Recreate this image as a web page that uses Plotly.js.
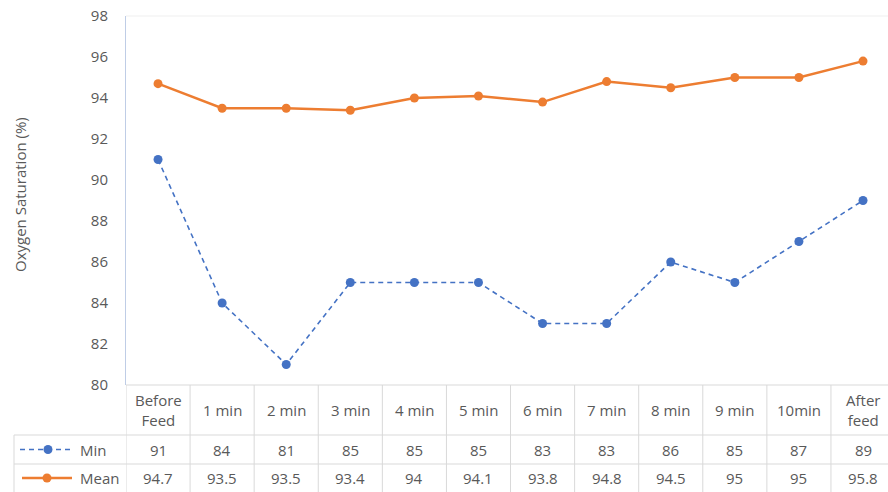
<!DOCTYPE html>
<html>
<head>
<meta charset="utf-8">
<script src="https://cdn.plot.ly/plotly-3.0.1.min.js"></script>
<style>html,body{margin:0;padding:0;background:#fff;}#chart{width:888px;height:492px;}</style>
</head>
<body>
<div id="chart"></div>
<script>
// ---- data ----
const categories = ["Before<br>Feed", "1 min", "2 min", "3 min", "4 min", "5 min", "6 min", "7 min", "8 min", "9 min", "10min", "After<br>feed"];
const minVals = [91, 84, 81, 85, 85, 85, 83, 83, 86, 85, 87, 89];
const meanVals = [94.7, 93.5, 93.5, 93.4, 94, 94.1, 93.8, 94.8, 94.5, 95, 95, 95.8];
const seriesNames = ["Min", "Mean"];
const yTicks = [80, 82, 84, 86, 88, 90, 92, 94, 96, 98];
const yTitle = "Oxygen Saturation (%)";

// ---- layout helpers (pixel -> paper) ----
const W = 888, H = 492, mL = 126, mR = 0, mT = 16, mB = 107;
const pw = W - mL - mR, ph = H - mT - mB;
const px = v => (v - mL) / pw;
const py = v => (H - mB - v) / ph;

const blue = "#4472C4", orange = "#ED7D31", txt = "#595959", grid = "#D9D9D9";
const idx = categories.map((_, i) => i);
const fs = 15;

const traces = [
  { x: idx, y: minVals, name: seriesNames[0], type: "scatter", mode: "lines+markers",
    line: { color: blue, width: 1.6, dash: "5px,4px" }, marker: { color: blue, size: 9 }, cliponaxis: false },
  { x: idx, y: meanVals, name: seriesNames[1], type: "scatter", mode: "lines+markers",
    line: { color: orange, width: 2.5 }, marker: { color: orange, size: 9 }, cliponaxis: false }
];

const shapes = [];
const annotations = [];
const ann = (o) => annotations.push(Object.assign({ showarrow: false, xanchor: "center", yanchor: "middle", font: { size: fs, color: txt } }, o));
// top faint border
shapes.push({ type: "line", xref: "paper", yref: "paper", x0: 0, x1: 1, y0: 1, y1: 1, line: { color: "#EFEFEF", width: 1 } });
// table horizontal lines
shapes.push({ type: "line", xref: "paper", yref: "paper", x0: 0, x1: 1, y0: 0, y1: 0, line: { color: grid, width: 1 } });
[435, 464].forEach(v => shapes.push({ type: "line", xref: "paper", yref: "paper", x0: px(14), x1: 1, y0: py(v), y1: py(v), line: { color: grid, width: 1 } }));
// table vertical lines
for (let i = 0; i <= categories.length; i++) {
  shapes.push({ type: "line", xref: "x", yref: "paper", x0: i - 0.5, x1: i - 0.5, y0: 0, y1: py(H + 5), line: { color: grid, width: 1 } });
}
shapes.push({ type: "line", xref: "paper", yref: "paper", x0: px(14), x1: px(14), y0: py(435), y1: py(H + 5), line: { color: grid, width: 1 } });

// table cells
const hdrY = py(410), minY = py(449.5), meanY = py(478);
categories.forEach((c, i) => {
  ann({ x: i, y: hdrY, xref: "x", yref: "paper", text: c });
  ann({ x: i, y: minY, xref: "x", yref: "paper", text: String(minVals[i]) });
  ann({ x: i, y: meanY, xref: "x", yref: "paper", text: String(meanVals[i]) });
});
// legend keys
ann({ x: px(78), y: minY, xref: "paper", yref: "paper", xanchor: "left", text: seriesNames[0] });
ann({ x: px(78), y: meanY, xref: "paper", yref: "paper", xanchor: "left", text: seriesNames[1] });
shapes.push({ type: "line", xref: "paper", yref: "paper", x0: px(20), x1: px(70), y0: minY, y1: minY, line: { color: blue, width: 1.6, dash: "5px,4px" } });
shapes.push({ type: "line", xref: "paper", yref: "paper", x0: px(22), x1: px(72), y0: meanY, y1: meanY, line: { color: orange, width: 2.5 } });
shapes.push({ type: "circle", xref: "paper", yref: "paper", xsizemode: "pixel", ysizemode: "pixel", xanchor: px(48), yanchor: minY, x0: -4.5, x1: 4.5, y0: -4.5, y1: 4.5, fillcolor: blue, line: { width: 0 } });
shapes.push({ type: "circle", xref: "paper", yref: "paper", xsizemode: "pixel", ysizemode: "pixel", xanchor: px(47), yanchor: meanY, x0: -4.5, x1: 4.5, y0: -4.5, y1: 4.5, fillcolor: orange, line: { width: 0 } });

// y title
ann({ x: px(20), y: py(194), xref: "paper", yref: "paper", text: yTitle, textangle: -90, font: { size: 15, color: txt } });

const layout = {
  width: W, height: H,
  margin: { l: mL, r: mR, t: mT, b: mB, pad: 0 },
  paper_bgcolor: "#fff", plot_bgcolor: "#fff",
  font: { family: "Open Sans, sans-serif", color: txt },
  showlegend: false,
  xaxis: { range: [-0.5, 11.39], showgrid: false, zeroline: false, showticklabels: false, ticks: "", showline: false, fixedrange: true },
  yaxis: { range: [80, 98], tickvals: yTicks, ticktext: yTicks.map(String), showgrid: false, zeroline: false,
           showline: true, linecolor: "#BFCDE6", linewidth: 1, ticks: "", ticklabelstandoff: 14,
           tickfont: { size: 15, color: txt }, fixedrange: true },
  shapes: shapes,
  annotations: annotations
};

Plotly.newPlot("chart", traces, layout, { staticPlot: true, displayModeBar: false });
</script>
</body>
</html>
